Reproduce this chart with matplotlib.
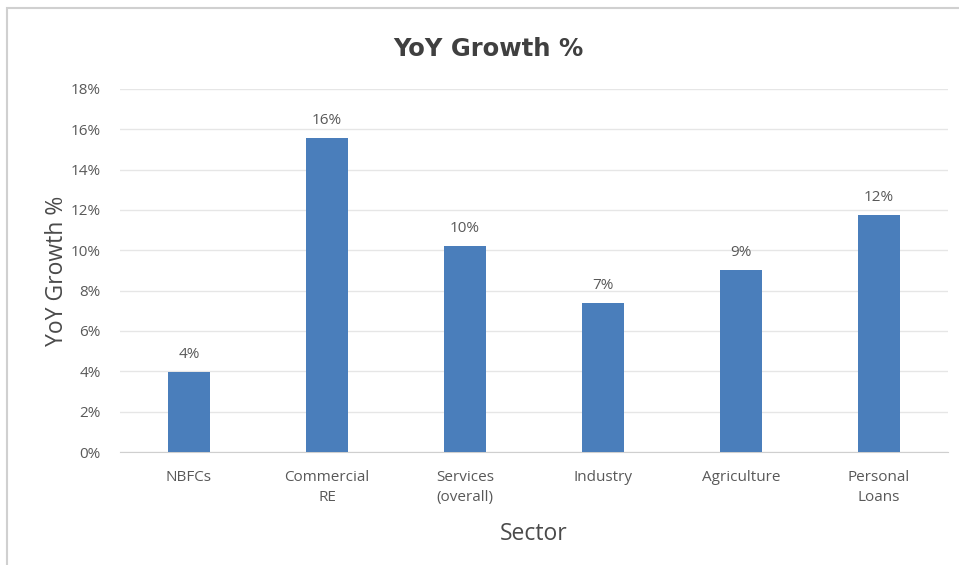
import matplotlib.pyplot as plt
from matplotlib.patches import Rectangle
from matplotlib.ticker import PercentFormatter

sectors = ['NBFCs', 'Commercial\nRE', 'Services\n(overall)', 'Industry', 'Agriculture', 'Personal\nLoans']
growth = [3.97, 15.57, 10.2, 7.39, 9.02, 11.75]

bar_color = '#4A7EBB'
text_color = '#595959'

fig = plt.figure(figsize=(9.59, 5.65), dpi=100)
ax = fig.add_axes([0.1251, 0.2, 0.8634, 0.6425])

bars = ax.bar(range(len(sectors)), growth, width=0.31, color=bar_color, zorder=3)
for rect, v in zip(bars, growth):
    ax.text(rect.get_x() + rect.get_width() / 2, v + 0.5, f'{v:.0f}%',
            ha='center', va='bottom', fontsize=11, color=text_color, family='Open Sans')

ax.set_xlim(-0.5, len(sectors) - 0.5)
ax.set_ylim(0, 18)
ax.set_yticks(range(0, 19, 2))
ax.yaxis.set_major_formatter(PercentFormatter(decimals=0))
ax.set_xticks(range(len(sectors)))
ax.set_xticklabels(sectors, fontsize=11, color=text_color, family='Open Sans', linespacing=1.45)
for lbl in ax.get_yticklabels():
    lbl.set_fontsize(11)
    lbl.set_color(text_color)
    lbl.set_family('Open Sans')

ax.grid(axis='y', color='#e6e6e6', linewidth=1, zorder=0)
ax.tick_params(axis='x', length=0, pad=13)
ax.tick_params(axis='y', length=0, pad=14)
for s in ['top', 'right', 'left']:
    ax.spines[s].set_visible(False)
ax.spines['bottom'].set_color('#cfcfcf')

ax.set_title('YoY Growth %', fontsize=17.5, fontweight='bold', color='#404040', pad=24, x=0.445)
ax.set_xlabel('Sector', fontsize=16.5, color='#4a4a4a', labelpad=12, family='Open Sans')
ax.set_ylabel('YoY Growth %', fontsize=16.5, color='#4a4a4a', labelpad=1, family='Open Sans')

# light frame round the chart area
fig.patches.append(Rectangle((7 / 959, -0.01), 1.0, 1 - 8 / 565 + 0.01,
                             transform=fig.transFigure, fill=False,
                             edgecolor='#d0d0d0', linewidth=1.5))

fig.savefig('out.png', dpi=100)
